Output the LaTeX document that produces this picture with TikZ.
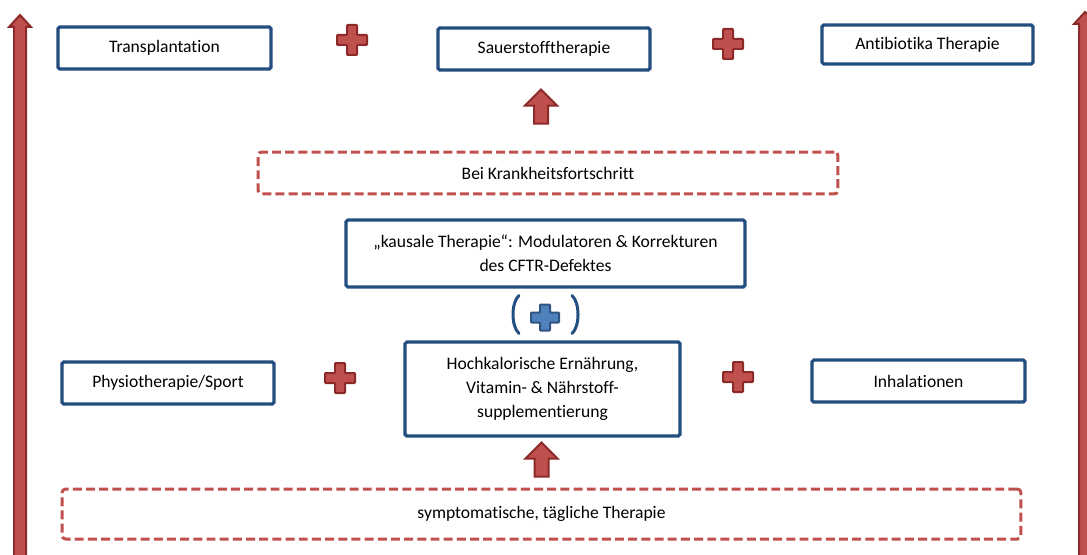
\documentclass[tikz,border=0pt]{standalone}
\usepackage{fontspec}
\setmainfont{Carlito}[Ligatures=NoCommon]
\usepackage{tikz}
\usetikzlibrary{calc}
\definecolor{boxblue}{RGB}{35,78,128}
\definecolor{plusred}{RGB}{192,80,77}
\definecolor{darkred}{RGB}{140,42,42}
\definecolor{plusblue}{RGB}{79,129,189}
\definecolor{darkblue}{RGB}{47,84,130}

\begin{document}
\begin{tikzpicture}[x=0.02cm, y=-0.02cm,
  font=\fontsize{10}{13.8}\selectfont,
  therapy/.style={draw=boxblue, line width=0.065cm, rounded corners=1pt, fill=white, align=center, inner sep=0pt},
  stage/.style={draw=plusred, line width=0.06cm, dash pattern=on 5.1pt off 2.4pt, rounded corners=2pt, align=center, inner sep=0pt},
  pics/redplus/.style={code={\filldraw[fill=plusred, draw=darkred, line width=0.04cm, rounded corners=0.5pt]
    (-5,-15) -- (5,-15) -- (5,-5) -- (15,-5) -- (15,5) -- (5,5) -- (5,15) -- (-5,15) -- (-5,5) -- (-15,5) -- (-15,-5) -- (-5,-5) -- cycle;}},
  pics/blueplus/.style={code={\filldraw[fill=plusblue, draw=darkblue, line width=0.04cm, rounded corners=0.5pt]
    (-5,-13) -- (5,-13) -- (5,-5) -- (14,-5) -- (14,5) -- (5,5) -- (5,13) -- (-5,13) -- (-5,5) -- (-14,5) -- (-14,-5) -- (-5,-5) -- cycle;}},
  pics/blockup/.style={code={\filldraw[fill=plusred, draw=darkred, line width=0.04cm]
    (-7,0) -- (-7,-18) -- (-16,-18) -- (0,-34) -- (16,-18) -- (7,-18) -- (7,0) -- cycle;}}]
\useasboundingbox (0,0) rectangle (1087,554);

% Long arrows at the sides
\coordinate (leftfoot) at (20,560);
\coordinate (rightfoot) at (1085,560);
\filldraw[fill=plusred, draw=darkred, line width=0.04cm]
  ($(leftfoot)+(-6,0)$) -- (14,27) -- (9,27) -- (20,15) -- (31,27) -- (26,27) -- ($(leftfoot)+(6,0)$) -- cycle;
\filldraw[fill=plusred, draw=darkred, line width=0.04cm]
  ($(rightfoot)+(-6,0)$) -- (1079,24) -- (1074,24) -- (1085,12) -- (1096,24) -- (1091,24) -- ($(rightfoot)+(6,0)$) -- cycle;

% Top row
\node[therapy, minimum width=4.26cm, minimum height=0.84cm] (trans) at (164.5,48) {Transplantation};
\node[therapy, minimum width=4.24cm, minimum height=0.84cm] (sauer) at (544,49) {Sauerstofftherapie};
\node[therapy, minimum width=4.22cm, minimum height=0.78cm] (anti) at (927.5,44.5) {Antibiotika Therapie};
\pic at (352,40) {redplus};
\pic at (728,44) {redplus};

% Progression of the disease
\node[stage, minimum width=11.6cm, minimum height=0.84cm] (bei) at (548,173) {Bei Krankheitsfortschritt};
\pic at ($(bei.north -| sauer.south)+(-3,-27)$) {blockup};

% Causal therapy
\node[therapy, minimum width=7.98cm, minimum height=1.34cm] (kausal) at (545.5,253.5)
  {„kausale Therapie“: Modulatoren \& Korrekturen\\des CFTR-Defektes};

% Middle row
\node[therapy, minimum width=5.5cm, minimum height=1.88cm] (hoch) at (542.5,389)
  {Hochkalorische Ernährung,\\Vitamin- \& Nährstoff-\\supplementierung};
\node[therapy, minimum width=4.24cm, minimum height=0.84cm] (physio) at (168,383) {Physiotherapie/Sport};
\node[therapy, minimum width=4.26cm, minimum height=0.84cm] (inhal) at (918.5,381) {Inhalationen};
\pic at (340,378) {redplus};
\pic at (738,377) {redplus};

% Plus in brackets
\coordinate (mid) at ($(kausal.south)!0.5!(hoch.north)$);
\pic at ($(mid)+(1,3)$) {blueplus};
\draw[boxblue, line width=0.06cm, line cap=round]
  ($(mid)+(-25,-19)$) .. controls ($(mid)+(-33,-12)$) and ($(mid)+(-33,12)$) .. ($(mid)+(-25,19)$);
\draw[boxblue, line width=0.06cm, line cap=round]
  ($(mid)+(28,-19)$) .. controls ($(mid)+(36,-12)$) and ($(mid)+(36,12)$) .. ($(mid)+(28,19)$);

% Daily therapy
\node[stage, minimum width=19.18cm, minimum height=1.0cm] (sym) at (541.5,514) {symptomatische, tägliche Therapie};
\pic at ($(sym.north)+(0,-11)$) {blockup};
\end{tikzpicture}
\end{document}
